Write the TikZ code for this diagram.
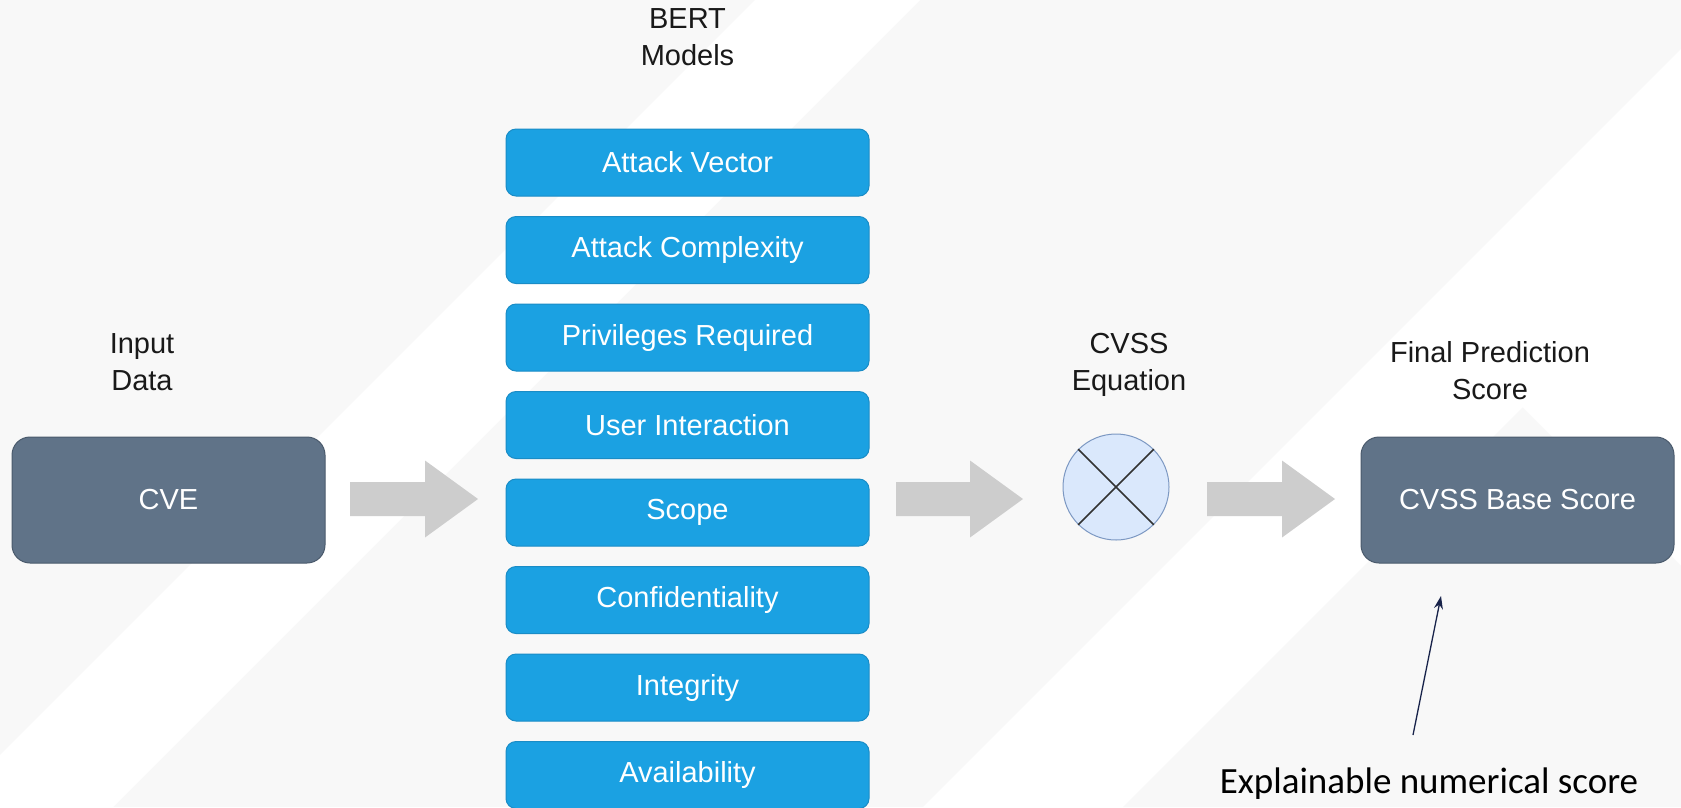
\documentclass[tikz,border=0pt]{standalone}
\usepackage{fontspec}
\setmainfont{Liberation Sans}
\newfontfamily\notefont{Carlito}
\usetikzlibrary{calc,arrows.meta}

\definecolor{bggray}{HTML}{F8F8F8}
\definecolor{slatefill}{HTML}{607388}
\definecolor{slateline}{HTML}{4A5A6C}
\definecolor{bluefill}{HTML}{1BA1E2}
\definecolor{blueline}{HTML}{1A8CC6}
\definecolor{arrowgray}{HTML}{CDCDCD}
\definecolor{circfill}{HTML}{DAE8FC}
\definecolor{circline}{HTML}{7C98C2}
\definecolor{navy}{HTML}{18234A}

% wide grey block arrow from coordinate #1 to the tip at coordinate #2
\newcommand\blockarrow[2]{%
  \fill[arrowgray] let \p1=(#1), \p2=(#2) in
    (\x1,\y1+17pt) -- (\x2-53pt,\y1+17pt) -- (\x2-53pt,\y1+38.5pt) --
    (\x2,\y1) -- (\x2-53pt,\y1-38.5pt) -- (\x2-53pt,\y1-17pt) --
    (\x1,\y1-17pt) -- cycle;}

\begin{document}
\begin{tikzpicture}[x=1pt,y=-1pt,
  headtext/.style={align=center, inner sep=0pt, text=black!90,
    font=\fontsize{29}{37}\selectfont},
  slatebox/.style={draw=slateline, fill=slatefill, line width=1pt,
    rounded corners=18pt, minimum width=313pt, minimum height=126pt,
    text=white, font=\fontsize{29}{35}\selectfont},
  metric/.style={draw=blueline, fill=bluefill, line width=1pt,
    rounded corners=10pt, minimum width=363pt, minimum height=67pt,
    text=white, font=\fontsize{29}{35}\selectfont},
  combiner/.style={circle, draw=circline, fill=circfill, line width=1pt,
    minimum size=106pt, inner sep=0pt},
  pointer/.style={navy, line width=1.3pt, -{Stealth[length=13pt,width=9pt]}}
]
% background with light diagonal bands
\fill[bggray] (0,0) rectangle (1681,807);
\begin{scope}
  \clip (0,0) rectangle (1681,807);
  \fill[white] (755,0) -- (920,0) -- (113,807) -- (-52,807) -- cycle;
  \fill[white] (1730,0) -- (1800,0) -- (1800,807) -- (923,807) -- cycle;
  \fill[bggray] (1522.5,407.5) -- (1922,807) -- (1123,807) -- cycle;
\end{scope}
\useasboundingbox (0,0) rectangle (1681,807);

% column headings
\node[headtext] (hin)  at (142,362.5) {Input\\Data};
\node[headtext] (hbert) at (687.5,37) {BERT\\Models};
\node[headtext] (heq)  at (1129,364.5) {CVSS\\Equation};
\node[headtext] (hout) at (1490,371) {Final Prediction\\Score};

% input and output boxes
\node[slatebox] (cve)   at (168.5,500) {CVE};
\node[slatebox] (score) at (1517.5,500) {CVSS Base Score};

% one model per CVSS metric
\foreach \t [count=\i] in {Attack Vector, Attack Complexity,
    Privileges Required, User Interaction, Scope, Confidentiality,
    Integrity, Availability}
  \node[metric] (m\i) at (687.5,{162.5+87.5*(\i-1)}) {\t};

% equation symbol
\node[combiner] (eq) at (1116,487) {};
\draw[line width=1.5pt, black!80] (eq.north west) -- (eq.south east)
  (eq.south west) -- (eq.north east);

% flow arrows
\coordinate (a1s) at (350,499);  \coordinate (a1t) at (478,499);
\coordinate (a2s) at (896,499);  \coordinate (a2t) at (1023,499);
\coordinate (a3s) at (1207,499); \coordinate (a3t) at (1335,499);
\blockarrow{a1s}{a1t}
\blockarrow{a2s}{a2t}
\blockarrow{a3s}{a3t}

% note under the score
\node[inner sep=0pt, font=\notefont\fontsize{37}{44}\selectfont] (note)
  at (1429,784) {Explainable numerical score};
\coordinate (ps) at (1413,735);
\coordinate (pe) at (1441,596);
\draw[pointer] (ps) -- (pe);
\end{tikzpicture}
\end{document}
